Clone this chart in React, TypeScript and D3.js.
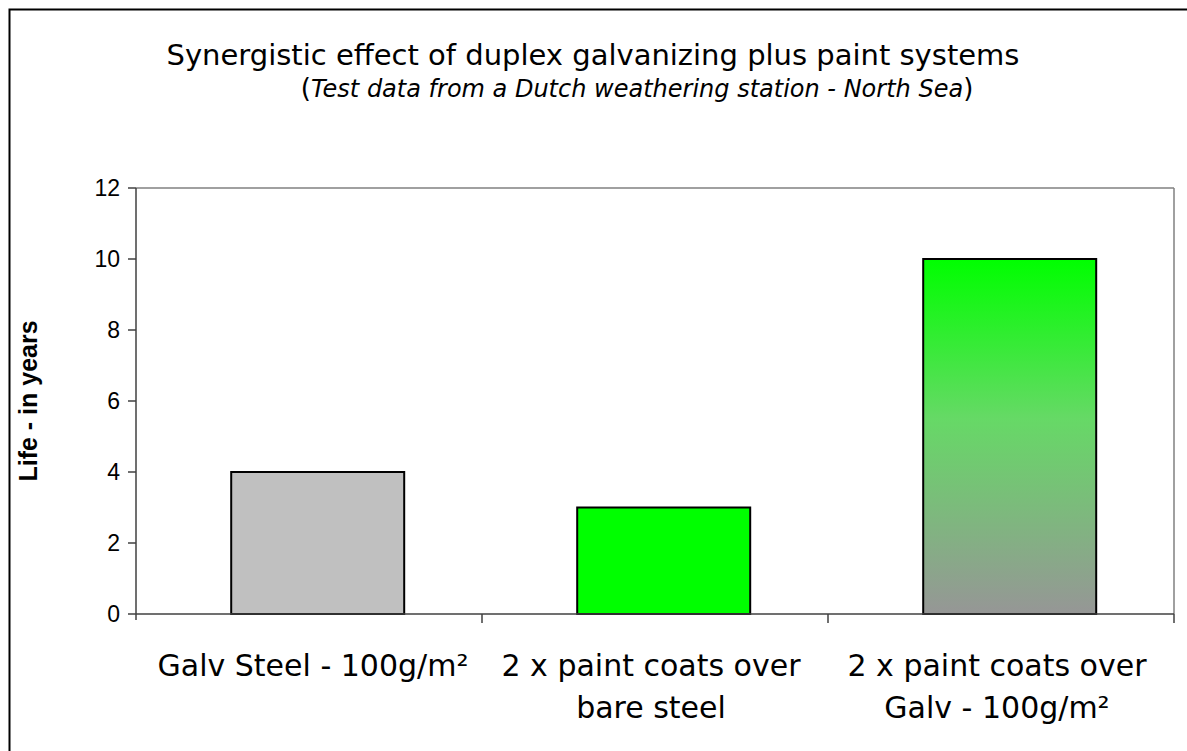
import React from "react";
import * as d3 from "d3";

const categories = ["Galv Steel - 100g/m²", "2 x paint coats over bare steel", "2 x paint coats over Galv - 100g/m²"];
const categoryLines = [["Galv Steel - 100g/m²"], ["2 x paint coats over", "bare steel"], ["2 x paint coats over", "Galv - 100g/m²"]];
const values = [4, 3, 10];
const yTicks = [0, 2, 4, 6, 8, 10, 12];
const titleText = "Synergistic effect of duplex galvanizing plus paint systems";
const subtitleText = "Test data from a Dutch weathering station - North Sea";
const yLabel = "Life - in years";

const W = 1187;
const H = 751;
const plot = { left: 136, right: 1174, top: 188, bottom: 614 };
const sans = "'DejaVu Sans', Verdana, sans-serif";
const arial = "'Liberation Sans', Arial, sans-serif";

export default function App() {
  const x = d3.scaleBand<string>().domain(categories).range([plot.left, plot.right]).padding(0);
  const xBar = d3
    .scaleBand<string>()
    .domain(categories)
    .range([plot.left + 8.7, plot.right + 8.7])
    .paddingInner(0.5)
    .paddingOuter(0.25);
  const y = d3.scaleLinear().domain([0, 12]).range([plot.bottom, plot.top]);
  const fills = ["#c0c0c0", "#00ff00", "url(#gradGalv)"];

  return (
    <svg
      width={W}
      height={H}
      style={{ position: "absolute", left: 0, top: 0, background: "#fff" }}
    >
      <defs>
        <linearGradient id="gradGalv" x1="0" y1="0" x2="0" y2="1">
          <stop offset="0%" stopColor="#00ff00" />
          <stop offset="45%" stopColor="#66d966" />
          <stop offset="100%" stopColor="#969696" />
        </linearGradient>
      </defs>
      <rect x={0} y={0} width={W} height={H} fill="#fff" />
      <rect x={9.5} y={9.5} width={W + 20} height={H + 20} fill="none" stroke="#000" strokeWidth={2} />

      <text x={593} y={65} textAnchor="middle" fontFamily={sans} fontSize={29} fill="#000">
        {titleText}
      </text>
      <text x={637} y={97} textAnchor="middle" fontFamily={sans} fontSize={24} fill="#000">
        <tspan fontSize={26}>(</tspan>
        <tspan fontStyle="italic">{subtitleText}</tspan>
        <tspan fontSize={26}>)</tspan>
      </text>

      {/* plot frame top & right */}
      <line x1={plot.left} x2={plot.right} y1={plot.top} y2={plot.top} stroke="#808080" strokeWidth={1.5} />
      <line x1={plot.right} x2={plot.right} y1={plot.top} y2={plot.bottom} stroke="#808080" strokeWidth={1.5} />

      {/* bars */}
      {categories.map((c, i) => (
        <rect
          key={c}
          x={xBar(c)}
          y={y(values[i])}
          width={xBar.bandwidth()}
          height={y(0) - y(values[i])}
          fill={fills[i]}
          stroke="#000"
          strokeWidth={2}
        />
      ))}

      {/* y axis */}
      <line x1={plot.left} x2={plot.left} y1={plot.top} y2={plot.bottom + 6} stroke="#404040" strokeWidth={1.5} />
      {yTicks.map((t) => (
        <g key={t}>
          <line x1={plot.left - 8} x2={plot.left} y1={y(t)} y2={y(t)} stroke="#404040" strokeWidth={1.5} />
          <text
            x={plot.left - 16}
            y={y(t)}
            dy="0.36em"
            textAnchor="end"
            fontFamily={arial}
            fontSize={23}
            fill="#000"
          >
            {t}
          </text>
        </g>
      ))}
      <text
        transform={`translate(37, ${(plot.top + plot.bottom) / 2}) rotate(-90)`}
        textAnchor="middle"
        fontFamily={arial}
        fontWeight="bold"
        fontSize={25}
        fill="#000"
      >
        {yLabel}
      </text>

      {/* x axis */}
      <line x1={plot.left} x2={plot.right} y1={plot.bottom} y2={plot.bottom} stroke="#404040" strokeWidth={1.5} />
      {categories.map((c) => (
        <line
          key={c + "t"}
          x1={(x(c) as number) + x.bandwidth()}
          x2={(x(c) as number) + x.bandwidth()}
          y1={plot.bottom}
          y2={plot.bottom + 9}
          stroke="#404040"
          strokeWidth={1.5}
        />
      ))}
      {categories.map((c, i) => {
        const cx = (x(c) as number) + x.bandwidth() / 2 - 4 + (i === 0 ? 8 : 0);
        return (
          <text key={c + "l"} x={cx} y={676} textAnchor="middle" fontFamily={sans} fontSize={30} fill="#000">
            {categoryLines[i].map((ln, j) => (
              <tspan key={j} x={cx} dy={j === 0 ? 0 : 42}>
                {ln}
              </tspan>
            ))}
          </text>
        );
      })}
    </svg>
  );
}
